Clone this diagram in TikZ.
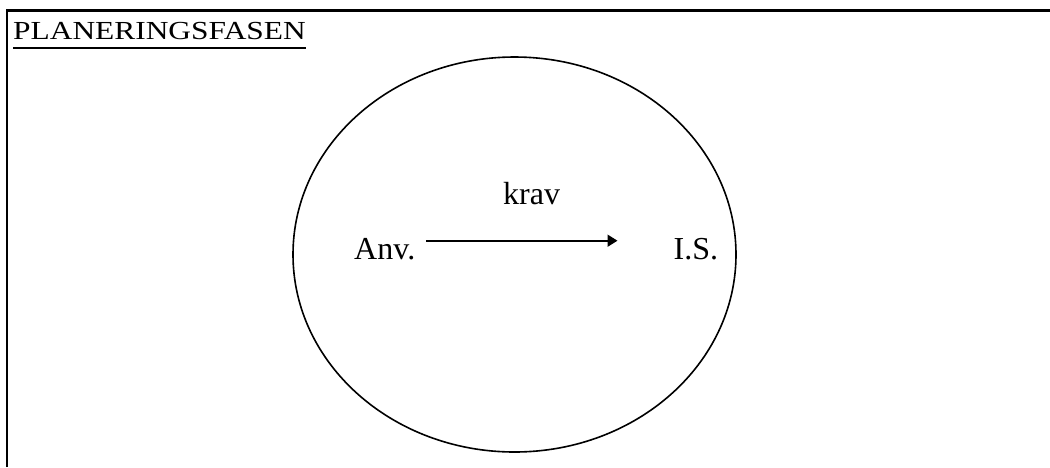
\documentclass[tikz,border=0pt]{standalone}
\usepackage{fontspec}
\setmainfont{Liberation Serif}
\usetikzlibrary{arrows.meta,shapes.geometric}
\begin{document}
\begin{tikzpicture}[x=1pt,y=-1pt,
  lbl/.style={inner sep=0pt, anchor=base west, font=\fontsize{32}{38}\selectfont},
  frameline/.style={line width=2.2pt},
  conn/.style={line width=1.6pt, -{Triangle[length=10pt,width=12pt]}}]
\useasboundingbox (0,0) rectangle (1050,467);
% frame (top and left edges)
\draw[frameline] (7,467) -- (7,10.5) -- (1050,10.5);
% title
\node[inner sep=0pt, anchor=base west, font=\fontsize{26}{31}\selectfont] (title) at (13,39.3) {\scalebox{1.208}[1]{PLANERINGSFASEN}};
\draw[line width=1.8pt] ([yshift=-8.7pt]title.base west) -- ([yshift=-8.7pt]title.base east);
% ellipse
\node[draw, line width=1.6pt, ellipse, minimum width=443pt, minimum height=395pt, inner sep=0pt] (circ) at (514.5,254.5) {};
% labels
\node[lbl] (anv) at (354,259) {Anv.};
\node[lbl] (is) at (673.5,259) {I.S.};
\node[lbl] (krav) at (503,204) {krav};
% connector
\draw[conn, shorten <=11pt, shorten >=56pt] ([yshift=18.3pt]anv.base east) -- ([yshift=18.3pt]is.base west);
\end{tikzpicture}
\end{document}
